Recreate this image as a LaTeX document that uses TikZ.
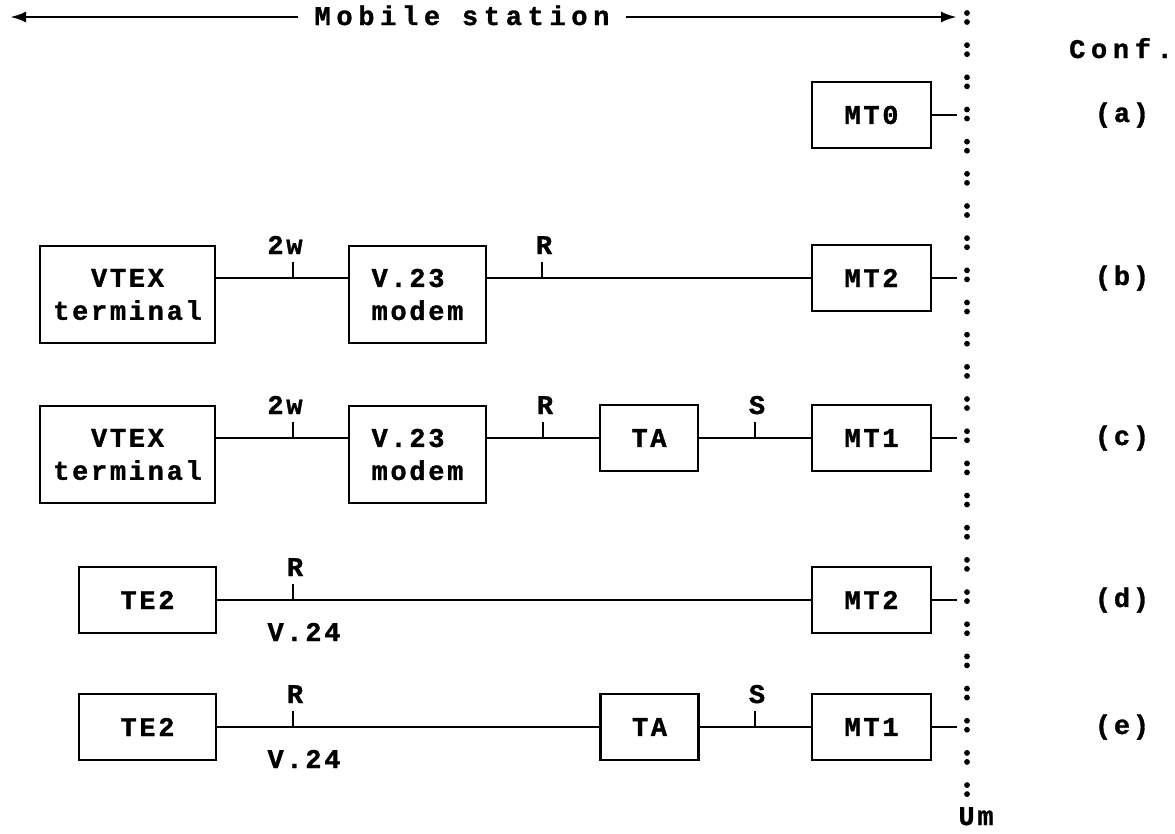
\documentclass[tikz,border=0pt]{standalone}
\usepackage{fontspec}
\usetikzlibrary{arrows.meta}
\newfontfamily\lblfont{Liberation Mono}[LetterSpace=10,BoldFeatures={FakeBold=1.2}]
\newfontfamily\widefont{Liberation Mono}[LetterSpace=21,BoldFeatures={FakeBold=1.2}]
\begin{document}
\begin{tikzpicture}[x=1pt,y=-1pt,
  every node/.style={font=\lblfont\bfseries\fontsize{27}{33}\selectfont},
  box/.style={draw,line width=2.8pt,rectangle,inner sep=0pt,align=center},
  sbox/.style={box,minimum height=66pt},
  dbox/.style={box,minimum height=97pt},
  wire/.style={line width=2.8pt},
  lbl/.style={anchor=base,inner sep=0pt},
  arr/.style={wire,-{Latex[length=16pt,width=11pt]}}
]
\useasboundingbox (0,0) rectangle (1175,833);

% top arrow
\node[lbl,font=\widefont\bfseries\fontsize{27}{33}\selectfont,inner xsep=16pt] (ms) at (462,25) {Mobile station};
\coordinate (msL) at (10,17);
\coordinate (msR) at (957,17);
\draw[arr] (ms.west |- msL) -- (msL);
\draw[arr] (ms.east |- msR) -- (msR);

% dotted interface line Um
\foreach \k in {0,...,24}{
  \fill (967,{13+32.17*\k}) circle[radius=2.9pt];
  \fill (967,{22+32.17*\k}) circle[radius=2.9pt];
}
\node[lbl] (um) at (976,825) {Um};
\node[lbl,font=\widefont\bfseries\fontsize{27}{33}\selectfont] (conf) at (1121,58) {Conf.};

% row a
\node[sbox,minimum width=119pt] (mt0) at (871.5,115) {MT0};
\coordinate (uA) at (957,115);
\draw[wire] (mt0.east) -- (uA);
\node (la) at (1122,115) {(a)};

% row b
\node[dbox,minimum width=175pt] (vtexb) at (127.5,294.5) {VTEX\\terminal};
\node[dbox,minimum width=137pt,align=left] (v23b) at (417.5,294.5) {V.23\\modem};
\node[sbox,minimum width=119pt] (mt2b) at (871.5,278) {MT2};
\coordinate (uB) at (957,278);
\draw[wire] (vtexb.east |- mt2b.west) -- (v23b.west |- mt2b.west);
\draw[wire] (v23b.east |- mt2b.west) -- (mt2b.west);
\draw[wire] (mt2b.east) -- (uB);
\coordinate (tb1) at (293,278);
\coordinate (tb2) at (542,278);
\draw[wire] (tb1) -- ++(0,-16);
\draw[wire] (tb2) -- ++(0,-16);
\node[lbl] (tlb1) at (285,254) {2w};
\node[lbl] (tlb2) at (544,254) {R};
\node (lb) at (1122,278) {(b)};

% row c
\node[dbox,minimum width=175pt] (vtexc) at (127.5,454.5) {VTEX\\terminal};
\node[dbox,minimum width=137pt,align=left] (v23c) at (417.5,454.5) {V.23\\modem};
\node[sbox,minimum width=98pt] (tac) at (649,438) {TA};
\node[sbox,minimum width=119pt] (mt1c) at (871.5,438) {MT1};
\coordinate (uC) at (957,438);
\draw[wire] (vtexc.east |- tac.west) -- (v23c.west |- tac.west);
\draw[wire] (v23c.east |- tac.west) -- (tac.west);
\draw[wire] (tac.east) -- (mt1c.west);
\draw[wire] (mt1c.east) -- (uC);
\coordinate (tc1) at (293,438);
\coordinate (tc2) at (543,438);
\coordinate (tc3) at (755,438);
\draw[wire] (tc1) -- ++(0,-16);
\draw[wire] (tc2) -- ++(0,-16);
\draw[wire] (tc3) -- ++(0,-16);
\node[lbl] (tlc1) at (285,414) {2w};
\node[lbl] (tlc2) at (545,414) {R};
\node[lbl] (tlc3) at (757,414) {S};
\node (lc) at (1122,438) {(c)};

% row d
\node[sbox,minimum width=137pt] (te2d) at (147.5,600) {TE2};
\node[sbox,minimum width=119pt] (mt2d) at (871.5,600) {MT2};
\coordinate (uD) at (957,600);
\draw[wire] (te2d.east) -- (mt2d.west);
\draw[wire] (mt2d.east) -- (uD);
\coordinate (td1) at (293,600);
\draw[wire] (td1) -- ++(0,-16);
\node[lbl] (tld1) at (295,576) {R};
\node[lbl] (vd) at (304,641) {V.24};
\node (ld) at (1122,600) {(d)};

% row e
\node[sbox,minimum width=137pt] (te2e) at (147.5,727) {TE2};
\node[sbox,minimum width=98pt] (tae) at (649.5,727) {TA};
\node[sbox,minimum width=119pt] (mt1e) at (871.5,727) {MT1};
\coordinate (uE) at (957,727);
\draw[wire] (te2e.east) -- (tae.west);
\draw[wire] (tae.east) -- (mt1e.west);
\draw[wire] (mt1e.east) -- (uE);
\coordinate (te1) at (293,727);
\coordinate (te2) at (755,727);
\draw[wire] (te1) -- ++(0,-16);
\draw[wire] (te2) -- ++(0,-16);
\node[lbl] (tle1) at (295,703) {R};
\node[lbl] (tle2) at (757,703) {S};
\node[lbl] (ve) at (304,768) {V.24};
\node (le) at (1122,727) {(e)};
\end{tikzpicture}
\end{document}
